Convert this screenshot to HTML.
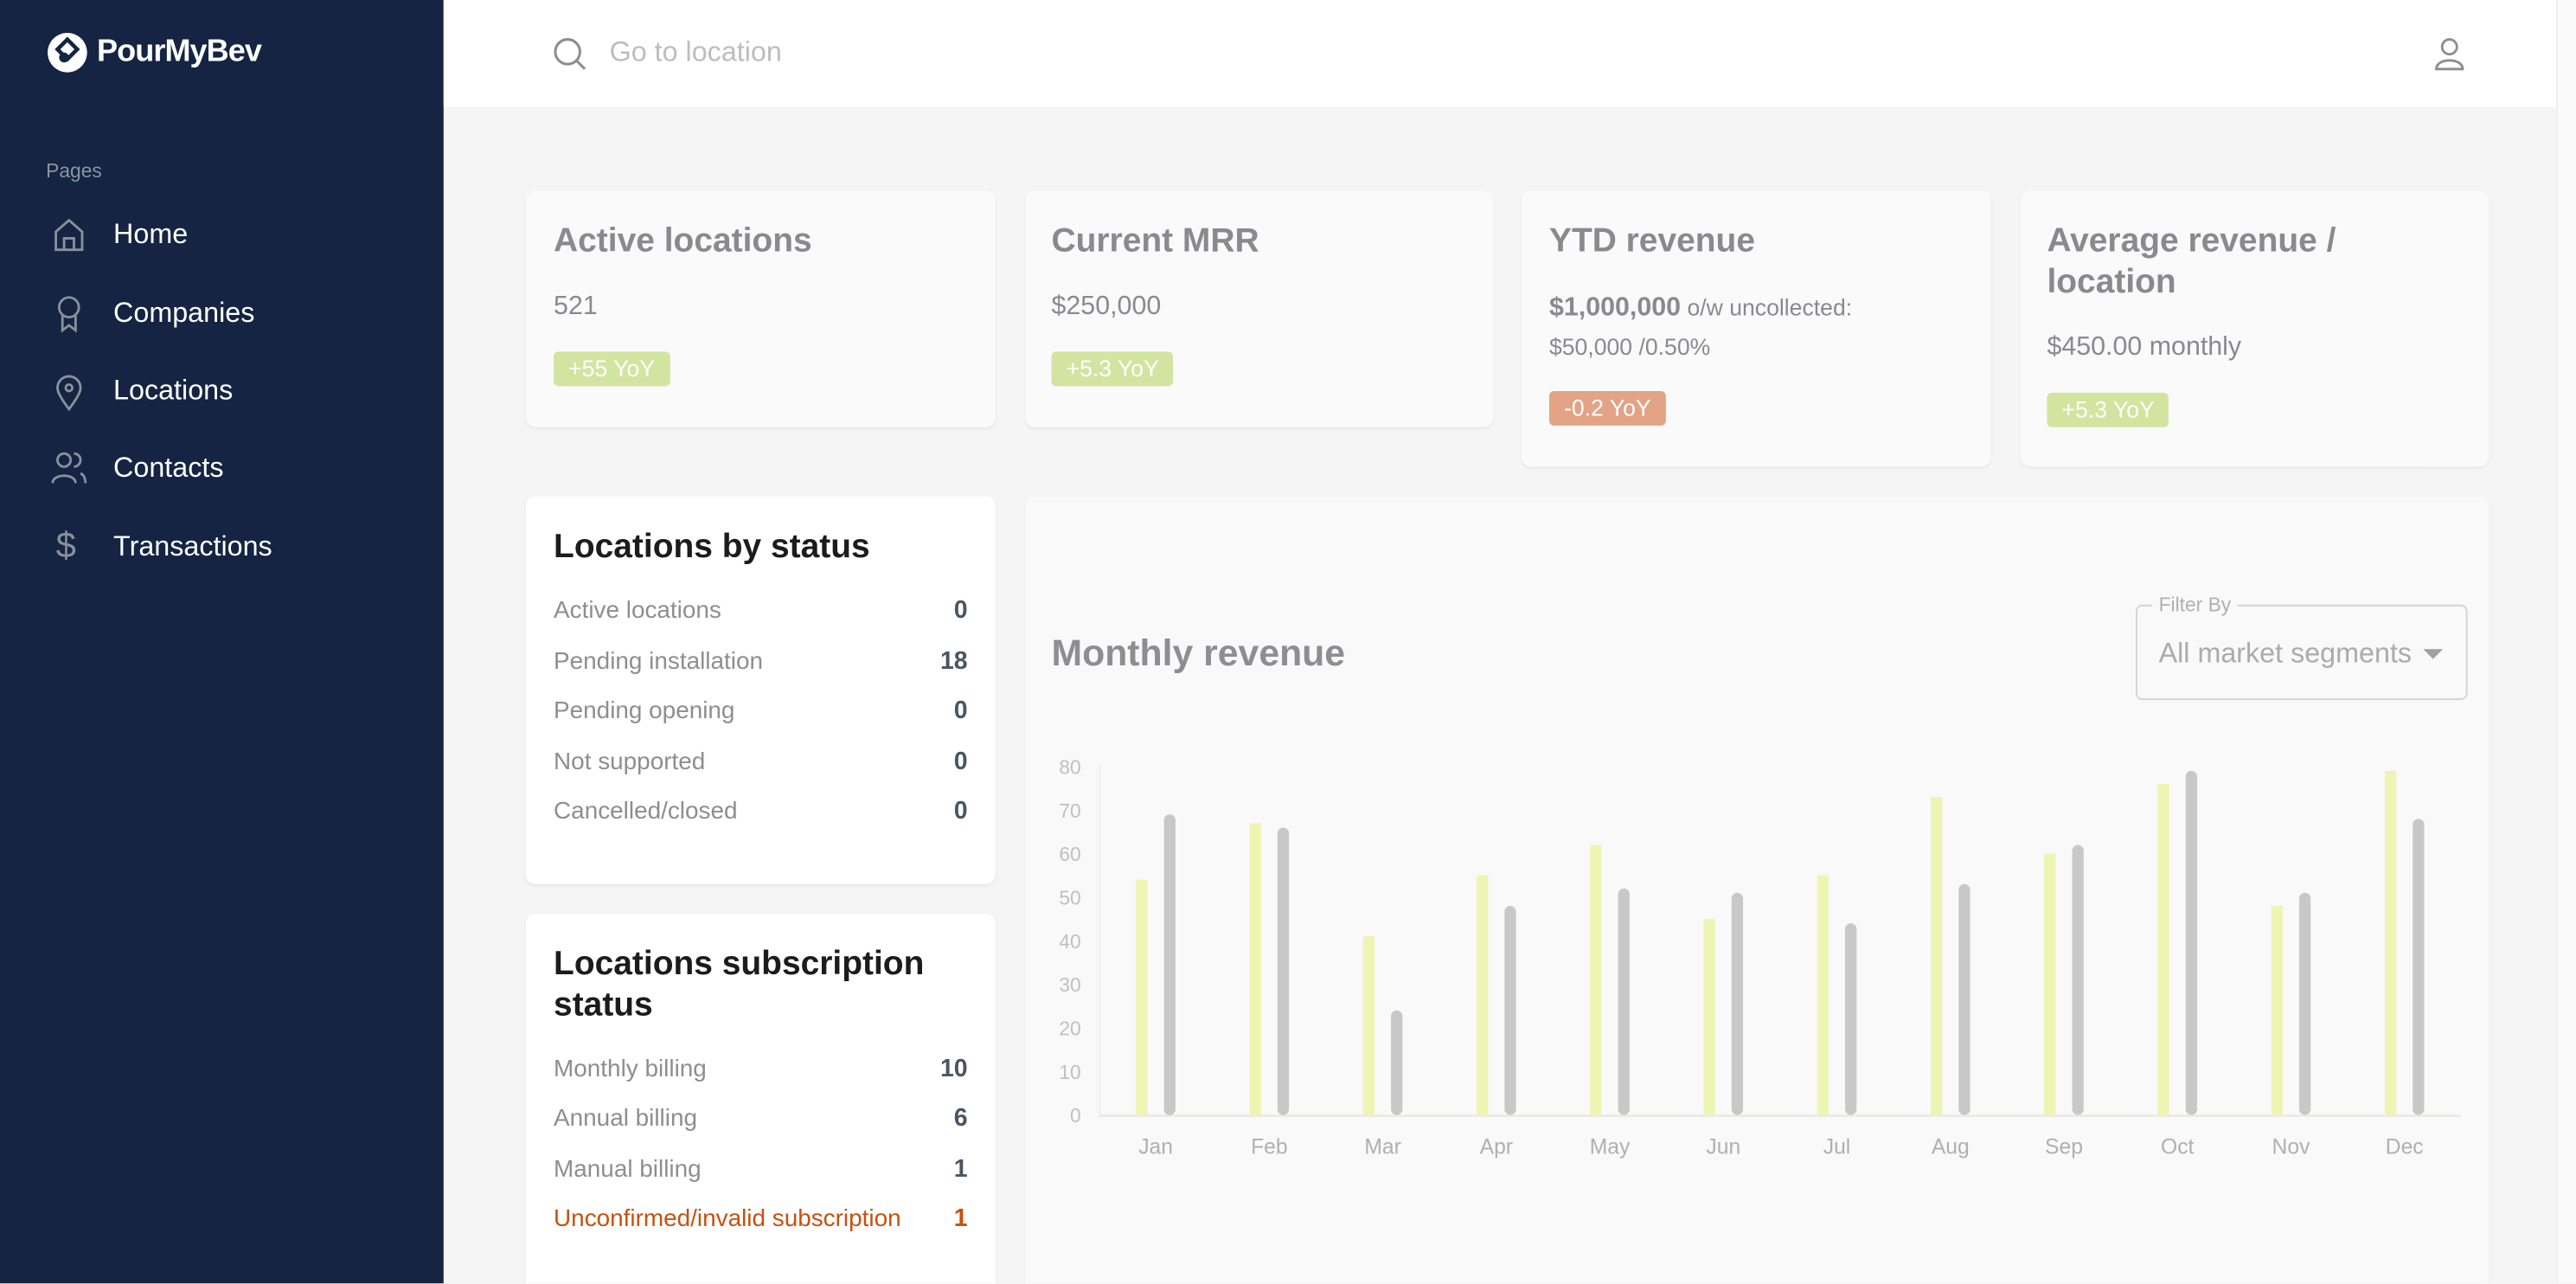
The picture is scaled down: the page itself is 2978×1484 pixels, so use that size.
<!DOCTYPE html>
<html><head><meta charset="utf-8"><style>
*{margin:0;padding:0;box-sizing:border-box}
html,body{width:2978px;height:1484px;overflow:hidden;background:#f5f5f5;font-family:"Liberation Sans",sans-serif}
#s{position:absolute;left:0;top:0;width:1568px;height:781.4px;overflow:hidden;transform:scale(1.89923);transform-origin:0 0;background:#f5f5f5}
.a{position:absolute;white-space:nowrap}
.side{left:0;top:0;width:270px;height:782px;background:#142442}
.nav{color:#fff;font-size:17px;left:69px;line-height:20px}
.card{position:absolute;background:#fafafa;border-radius:6px;box-shadow:0 1px 2px rgba(0,0,0,.06)}
.ct{color:#8a8a8e;font-weight:bold;font-size:20.5px;line-height:25px}
.cv{color:#8a8a8e;font-size:16px;line-height:20px}
.badge{position:absolute;height:21px;border-radius:3px;color:#fff;font-size:14px;line-height:21px;padding:0 9px}
.g{background:#d3e4a0}.r{background:#e2a386}
.w{background:#fff}
.lt{color:#1c1c1c;font-weight:bold;font-size:20.5px;line-height:25px}
.row{position:absolute;left:17px;right:17px;height:20px;font-size:14.7px;line-height:20px;color:#8e8e8e}
.row b{position:absolute;right:0;color:#4b5563;font-size:15px}
</style></head><body><div id="s">
<div class="a side"></div>
<svg class="a" style="left:28px;top:19px" width="26" height="26" viewBox="0 0 26 26"><circle cx="13" cy="13" r="12" fill="#fff"/><path d="M13 5 L19 11 L13 17 L7 11 Z" fill="none" stroke="#142442" stroke-width="2.4"/><circle cx="11" cy="16" r="3" fill="#142442"/></svg>
<div class="a" style="left:59px;top:21px;color:#fff;font-weight:bold;font-size:19px;line-height:22px;letter-spacing:-0.5px">PourMyBev</div>
<div class="a" style="left:28px;top:97px;color:#8c93a0;font-size:12px;line-height:14px">Pages</div>
<svg class="a" style="left:31px;top:132px" width="22" height="22" viewBox="0 0 22 22" fill="none" stroke="#8a8f9a" stroke-width="1.5"><path d="M3 9 L11 2 L19 9 V20 H3 Z"/><path d="M8 20 V13 H14 V20"/></svg>
<div class="a nav" style="top:133px">Home</div>
<svg class="a" style="left:31px;top:179px" width="22" height="24" viewBox="0 0 22 24" fill="none" stroke="#8a8f9a" stroke-width="1.5"><circle cx="11" cy="8" r="6"/><path d="M7 13 L7 22 L11 19 L15 22 L15 13"/></svg>
<div class="a nav" style="top:181px">Companies</div>
<svg class="a" style="left:31px;top:227px" width="22" height="24" viewBox="0 0 22 24" fill="none" stroke="#8a8f9a" stroke-width="1.5"><path d="M11 22 C5 14 4 11 4 9 A7 7 0 0 1 18 9 C18 11 17 14 11 22Z"/><circle cx="11" cy="9" r="2"/></svg>
<div class="a nav" style="top:228px">Locations</div>
<svg class="a" style="left:30px;top:274px" width="24" height="22" viewBox="0 0 24 22" fill="none" stroke="#8a8f9a" stroke-width="1.5"><circle cx="9" cy="6" r="4"/><path d="M2 20 C2 14 16 14 16 20"/><path d="M15 2 A4 4 0 0 1 15 10 M19 14 C21 15 22 17 22 20"/></svg>
<div class="a nav" style="top:275px">Contacts</div>
<div class="a" style="left:34px;top:319px;color:#8a8f9a;font-size:22px;line-height:26px">$</div>
<div class="a nav" style="top:323px">Transactions</div>
<div class="a" style="left:270px;top:0;width:1298px;height:65px;background:#fff"></div>
<div class="a" style="left:1556px;top:0;width:12px;height:782px;background:#fafafa;border-left:1px solid #eee"></div>
<svg class="a" style="left:336px;top:22px" width="22" height="22" viewBox="0 0 22 22" fill="none" stroke="#8d8d8d" stroke-width="1.6"><circle cx="9.5" cy="9.5" r="7.5"/><path d="M15 15 L20 20"/></svg>
<div class="a" style="left:371px;top:22px;color:#bdbdbd;font-size:17px;line-height:20px">Go to location</div>
<svg class="a" style="left:1481px;top:22px" width="20" height="22" viewBox="0 0 20 22" fill="none" stroke="#8d8d8d" stroke-width="1.5"><circle cx="10" cy="6.5" r="4.5"/><path d="M2 20 C2 13 18 13 18 20 Z"/></svg>

<div class="card" style="left:320px;top:116px;width:286px;height:144px">
<div class="a ct" style="left:17px;top:18px">Active locations</div>
<div class="a cv" style="left:17px;top:61px">521</div>
<div class="badge g" style="left:17px;top:98px">+55 YoY</div></div>
<div class="card" style="left:624px;top:116px;width:285px;height:144px">
<div class="a ct" style="left:16px;top:18px">Current MRR</div>
<div class="a cv" style="left:16px;top:61px">$250,000</div>
<div class="badge g" style="left:16px;top:98px">+5.3 YoY</div></div>
<div class="card" style="left:926px;top:116px;width:286px;height:168px">
<div class="a ct" style="left:17px;top:18px">YTD revenue</div>
<div class="a" style="left:17px;top:61px;color:#8a8a8e;font-size:14px;line-height:20px"><b style="font-size:16px">$1,000,000</b> o/w uncollected:</div>
<div class="a" style="left:17px;top:85px;color:#8a8a8e;font-size:14px;line-height:20px">$50,000 /0.50%</div>
<div class="badge r" style="left:17px;top:122px">-0.2 YoY</div></div>
<div class="card" style="left:1230px;top:116px;width:285px;height:168px">
<div class="a ct" style="left:16px;top:18px">Average revenue /</div>
<div class="a ct" style="left:16px;top:43px">location</div>
<div class="a cv" style="left:16px;top:86px">$450.00 monthly</div>
<div class="badge g" style="left:16px;top:123px">+5.3 YoY</div></div>

<div class="card w" style="left:320px;top:302px;width:286px;height:236px">
<div class="a lt" style="left:17px;top:18px">Locations by status</div>
<div class="row" style="top:60px">Active locations<b>0</b></div>
<div class="row" style="top:91px">Pending installation<b>18</b></div>
<div class="row" style="top:121px">Pending opening<b>0</b></div>
<div class="row" style="top:152px">Not supported<b>0</b></div>
<div class="row" style="top:182px">Cancelled/closed<b>0</b></div></div>
<div class="card w" style="left:320px;top:556px;width:286px;height:240px">
<div class="a lt" style="left:17px;top:18px">Locations subscription</div>
<div class="a lt" style="left:17px;top:43px">status</div>
<div class="row" style="top:85px">Monthly billing<b>10</b></div>
<div class="row" style="top:115px">Annual billing<b>6</b></div>
<div class="row" style="top:146px">Manual billing<b>1</b></div>
<div class="row" style="top:176px;color:#c8500f">Unconfirmed/invalid subscription<b style="color:#c8500f">1</b></div></div>

<div class="card" style="left:624px;top:302px;width:891px;height:500px;background:#f9f9f9"></div>
<div class="a" style="left:640px;top:385px;color:#8e8e92;font-weight:bold;font-size:22.5px;line-height:26px">Monthly revenue</div>
<div class="a" style="left:1300px;top:368px;width:202px;height:58px;border:1px solid #d4d4d4;border-radius:4px"></div>
<div class="a" style="left:1310px;top:361px;background:#f9f9f9;padding:0 4px;color:#b0b0b0;font-size:12px;line-height:15px">Filter By</div>
<div class="a" style="left:1314px;top:388px;color:#ababab;font-size:17px;line-height:20px">All market segments</div>
<svg class="a" style="left:1474px;top:394px" width="14" height="8"><path d="M1 1 L13 1 L7 7Z" fill="#a0a0a0"/></svg>

<svg class="a" style="left:0;top:0" width="1568" height="782" font-family="Liberation Sans, sans-serif">
<g fill="#c0c0c0" font-size="12" text-anchor="end">
<text x="658" y="683">0</text><text x="658" y="656.5">10</text><text x="658" y="630">20</text><text x="658" y="603.5">30</text><text x="658" y="577">40</text><text x="658" y="550.5">50</text><text x="658" y="524">60</text><text x="658" y="497.5">70</text><text x="658" y="471">80</text></g>
<line x1="669.5" y1="466" x2="669.5" y2="679" stroke="#eeeeee"/>
<line x1="669" y1="679" x2="1498" y2="679" stroke="#ebebe6" stroke-width="1.5"/>
<g fill="#ecf6b2">
<rect x="691.5" y="535.4" width="7" height="143.1"/><rect x="760.6" y="500.9" width="7" height="177.6"/><rect x="829.7" y="569.8" width="7" height="108.7"/><rect x="898.8" y="532.7" width="7" height="145.8"/><rect x="967.9" y="514.2" width="7" height="164.3"/><rect x="1037" y="559.2" width="7" height="119.3"/><rect x="1106.1" y="532.7" width="7" height="145.8"/><rect x="1175.2" y="485" width="7" height="193.5"/><rect x="1244.3" y="519.5" width="7" height="159"/><rect x="1313.4" y="477.1" width="7" height="201.4"/><rect x="1382.5" y="551.3" width="7" height="127.2"/><rect x="1451.6" y="469.1" width="7" height="209.4"/></g>
<g fill="#c8c8c8">
<rect x="708.5" y="495.6" width="7" height="183" rx="3.5"/><rect x="777.6" y="503.6" width="7" height="175" rx="3.5"/><rect x="846.7" y="614.9" width="7" height="63.6" rx="3.5"/><rect x="915.8" y="551.3" width="7" height="127.2" rx="3.5"/><rect x="984.9" y="540.7" width="7" height="137.8" rx="3.5"/><rect x="1054" y="543.3" width="7" height="135.2" rx="3.5"/><rect x="1123.1" y="561.9" width="7" height="116.6" rx="3.5"/><rect x="1192.2" y="538" width="7" height="140.5" rx="3.5"/><rect x="1261.3" y="514.2" width="7" height="164.3" rx="3.5"/><rect x="1330.4" y="469.1" width="7" height="209.4" rx="3.5"/><rect x="1399.5" y="543.3" width="7" height="135.2" rx="3.5"/><rect x="1468.6" y="498.3" width="7" height="180.2" rx="3.5"/></g>
<g fill="#b0b0b0" font-size="13" text-anchor="middle">
<text x="703.5" y="702">Jan</text><text x="772.6" y="702">Feb</text><text x="841.7" y="702">Mar</text><text x="910.8" y="702">Apr</text><text x="979.9" y="702">May</text><text x="1049" y="702">Jun</text><text x="1118.1" y="702">Jul</text><text x="1187.2" y="702">Aug</text><text x="1256.3" y="702">Sep</text><text x="1325.4" y="702">Oct</text><text x="1394.5" y="702">Nov</text><text x="1463.6" y="702">Dec</text></g>
</svg>
</div></body></html>
